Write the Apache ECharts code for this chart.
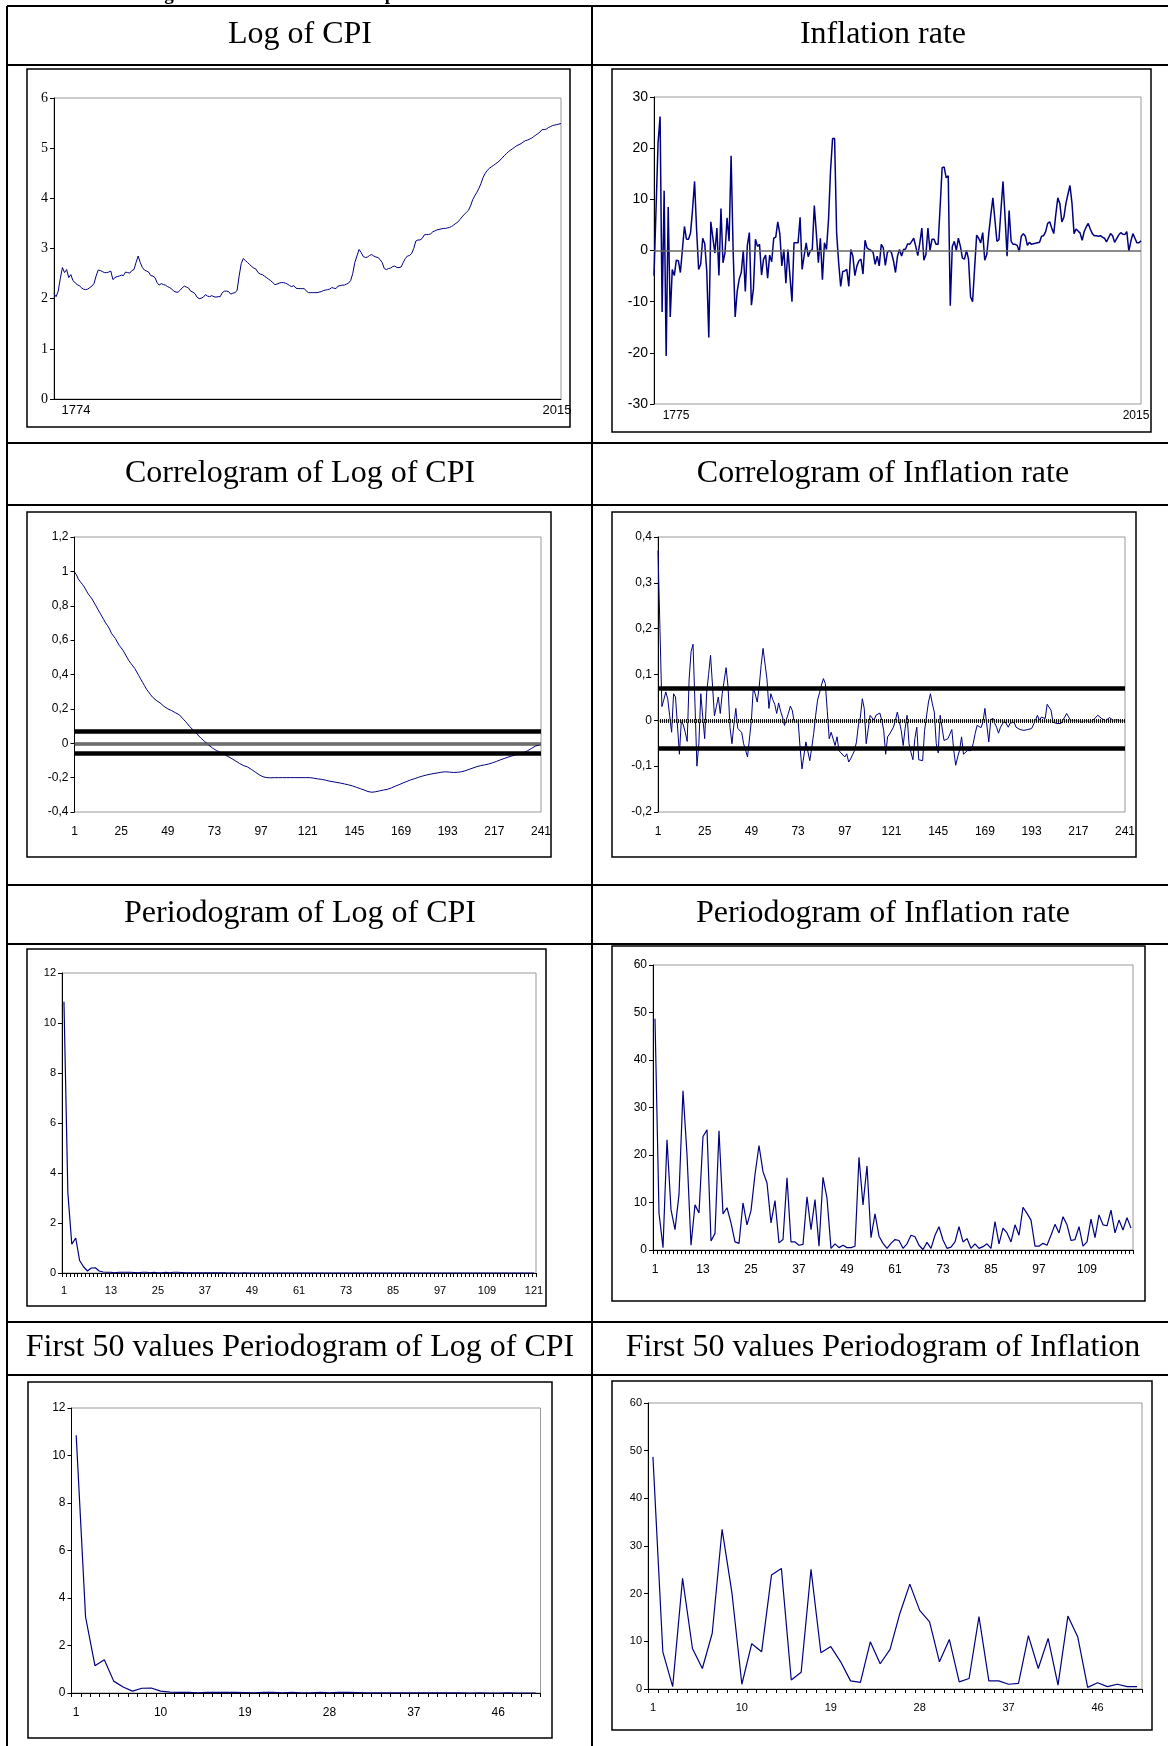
<!DOCTYPE html>
<html>
<head>
<meta charset="utf-8">
<script src="https://cdn.jsdelivr.net/npm/echarts@6/dist/echarts.min.js"></script>
<style>
html,body{margin:0;padding:0;background:#fff;}
#chart{width:1168px;height:1746px;}
</style>
</head>
<body>
<div id="chart"></div>
<script>
// series
const logCpi = [
  2.10, 2.04, 2.15, 2.40, 2.62, 2.52, 2.58, 2.42, 2.48, 2.36,
  2.32, 2.28, 2.26, 2.22, 2.19, 2.18, 2.19, 2.22, 2.25, 2.30,
  2.45, 2.57, 2.56, 2.54, 2.52, 2.52, 2.53, 2.55, 2.38, 2.42,
  2.44, 2.45, 2.47, 2.46, 2.53, 2.52, 2.51, 2.56, 2.58, 2.72,
  2.85, 2.72, 2.62, 2.57, 2.55, 2.53, 2.46, 2.45, 2.42, 2.32,
  2.27, 2.30, 2.28, 2.27, 2.24, 2.22, 2.19, 2.15, 2.13, 2.13,
  2.17, 2.22, 2.25, 2.23, 2.21, 2.15, 2.13, 2.10, 2.03, 2.00,
  2.01, 2.03, 2.08, 2.05, 2.04, 2.06, 2.04, 2.03, 2.04, 2.04,
  2.12, 2.15, 2.15, 2.14, 2.09, 2.11, 2.12, 2.16, 2.45, 2.70,
  2.80, 2.76, 2.72, 2.68, 2.64, 2.61, 2.59, 2.52, 2.49, 2.48,
  2.45, 2.42, 2.39, 2.36, 2.32, 2.28, 2.29, 2.31, 2.32, 2.32,
  2.31, 2.29, 2.26, 2.24, 2.26, 2.21, 2.20, 2.20, 2.20, 2.20,
  2.15, 2.12, 2.12, 2.12, 2.12, 2.12, 2.13, 2.14, 2.16, 2.17,
  2.18, 2.19, 2.22, 2.21, 2.20, 2.25, 2.26, 2.27, 2.27, 2.29,
  2.31, 2.36, 2.50, 2.72, 2.85, 2.98, 2.92, 2.84, 2.82, 2.83,
  2.86, 2.88, 2.85, 2.83, 2.82, 2.78, 2.72, 2.60, 2.58, 2.60,
  2.61, 2.64, 2.65, 2.62, 2.62, 2.63, 2.72, 2.80, 2.85, 2.86,
  2.90, 3.00, 3.15, 3.17, 3.17, 3.20, 3.27, 3.28, 3.28, 3.29,
  3.33, 3.35, 3.37, 3.38, 3.39, 3.40, 3.40, 3.41, 3.42, 3.44,
  3.47, 3.50, 3.53, 3.58, 3.63, 3.68, 3.72, 3.76, 3.85, 3.97,
  4.05, 4.12, 4.20, 4.30, 4.42, 4.50, 4.56, 4.60, 4.63, 4.66,
  4.69, 4.72, 4.76, 4.80, 4.85, 4.89, 4.93, 4.96, 4.99, 5.02,
  5.05, 5.07, 5.09, 5.12, 5.15, 5.16, 5.18, 5.20, 5.23, 5.26,
  5.29, 5.32, 5.37, 5.37, 5.38, 5.41, 5.43, 5.45, 5.46, 5.47,
  5.48, 5.49
];

const inflation = [
  -4.9, 8, 21, 26.2, -12, 11.7, -20.6, 8.5, -13, -3.7,
  -4.9, -1.9, -2, -4.3, 0.2, 4.7, 2.2, 2.2, 3.4, 8,
  13.5, 4, -3.7, -2.7, 2.4, 1.3, -4, -17, 5.6, 2.5,
  -0.5, 4.4, -4.9, 8.2, -2.4, -0.4, 6.4, 1.8, 18.5, 0,
  -13, -8, -5.6, -4.3, 0, -8, 1, 3.5, -10.7, -7.5,
  2.2, 0.8, 1.2, -4.8, -1.7, -0.9, -5.4, -0.9, -2.2, 2.4,
  2.6, 5.6, 3.3, -3, 0.2, -6.4, 0.2, -5, -10, 1.5,
  1.5, 1.5, 6.5, -3.7, -1, 1.5, -1.2, -0.1, 0.2, 8.8,
  3.4, -2.4, 2.4, -5.7, 1.5, 0.2, 6, 15.6, 21.9, 21.9,
  3.4, -2.4, -7, -4.1, -4, -3.7, -7, 0.2, -1.1, -4.9,
  -3, -2, -1.7, -4.6, 2, 0.5, 0.2, 0, -0.4, -2.7,
  -1.1, -3, 1.2, 0.5, -2.9, -0.4, 0, -0.4, -2, -4.3,
  -1.1, 0.2, -1.1, 0.2, 0.3, 1.3, 1.2, 1.8, 2.4, 0.8,
  -1, 1.5, 4.4, -1.9, -0.8, 4.4, 0, 2.2, 2.2, 1.2,
  1.2, 8.5, 16.2, 16.3, 14.2, 14.6, -10.8, 0.8, 1.8, 0,
  2.4, 0.8, -1.5, -1.7, 0, -1.7, -9.1, -10, -3.5, 3,
  2.4, 1.5, 3.5, -1.9, -0.8, 3.4, 7, 10.3, 6, 1.8,
  2.1, 8, 13.5, 6.6, -1.1, 7.8, 1.8, 1.2, 1.2, 1,
  -0.2, 2.8, 3.3, 2.8, 1, 1.6, 1.2, 1.3, 1.4, 1.5,
  1.6, 2.8, 2.9, 3.7, 5.3, 5.6, 4.4, 3.3, 7, 10.3,
  9.2, 5.6, 6.5, 9.2, 11, 12.7, 9.2, 3.3, 4.2, 3.8,
  3.4, 2, 3.7, 4.6, 5.3, 4.2, 3.3, 2.9, 2.9, 2.8,
  2.9, 2.6, 2.4, 1.7, 2.5, 3.3, 2.9, 1.6, 2.3, 3,
  3.5, 3.2, 3.1, 3.7, -0.1, 1.8, 3.3, 2.4, 1.5, 1.5,
  1.9
];

const acfCpi = [
  0.996, 0.98, 0.955, 0.94, 0.925, 0.91, 0.89, 0.87, 0.855, 0.84,
  0.82, 0.80, 0.78, 0.76, 0.74, 0.72, 0.70, 0.685, 0.665, 0.64,
  0.625, 0.61, 0.59, 0.57, 0.555, 0.54, 0.52, 0.50, 0.48, 0.465,
  0.45, 0.435, 0.415, 0.395, 0.375, 0.355, 0.335, 0.315, 0.30, 0.285,
  0.27, 0.26, 0.25, 0.24, 0.235, 0.225, 0.215, 0.205, 0.20, 0.195,
  0.19, 0.183, 0.177, 0.172, 0.165, 0.155, 0.14, 0.128, 0.115, 0.10,
  0.09, 0.078, 0.066, 0.054, 0.042, 0.03, 0.02, 0.01, 0.0, -0.01,
  -0.018, -0.028, -0.036, -0.042, -0.048, -0.053, -0.058, -0.065, -0.071, -0.077,
  -0.083, -0.09, -0.097, -0.104, -0.11, -0.118, -0.125, -0.13, -0.134, -0.138,
  -0.145, -0.152, -0.16, -0.168, -0.176, -0.183, -0.19, -0.195, -0.198, -0.2,
  -0.2, -0.201, -0.2, -0.2, -0.201, -0.2, -0.2, -0.2, -0.201, -0.2,
  -0.2, -0.2, -0.201, -0.2, -0.2, -0.2, -0.201, -0.2, -0.2, -0.2,
  -0.2, -0.2, -0.201, -0.203, -0.205, -0.207, -0.209, -0.21, -0.212, -0.214,
  -0.217, -0.22, -0.222, -0.224, -0.226, -0.228, -0.23, -0.232, -0.235, -0.237,
  -0.24, -0.242, -0.245, -0.248, -0.252, -0.256, -0.26, -0.264, -0.268, -0.272,
  -0.277, -0.281, -0.285, -0.285, -0.284, -0.282, -0.28, -0.277, -0.274, -0.272,
  -0.27, -0.268, -0.265, -0.26, -0.255, -0.25, -0.245, -0.241, -0.236, -0.231,
  -0.227, -0.222, -0.217, -0.213, -0.21, -0.206, -0.202, -0.198, -0.194, -0.191,
  -0.188, -0.185, -0.182, -0.18, -0.178, -0.176, -0.174, -0.172, -0.17, -0.168,
  -0.166, -0.166, -0.167, -0.168, -0.169, -0.17, -0.17, -0.169, -0.168, -0.166,
  -0.164, -0.16, -0.156, -0.152, -0.148, -0.144, -0.14, -0.136, -0.133, -0.13,
  -0.128, -0.126, -0.124, -0.121, -0.118, -0.114, -0.11, -0.106, -0.102, -0.097,
  -0.093, -0.089, -0.085, -0.081, -0.078, -0.074, -0.071, -0.068, -0.065, -0.062,
  -0.059, -0.055, -0.05, -0.044, -0.038, -0.031, -0.024, -0.017, -0.013, -0.01,
  -0.006
];

const acfInfl = [
  0.37, 0.2, 0.03, 0.045, 0.062, 0.047, 0.01, -0.026, 0.058, 0.051,
  0.047, -0.074, 0, -0.01, -0.026, -0.046, 0.09, 0.15, 0.166, 0.036,
  -0.1, -0.051, 0.058, 0.007, -0.04, 0.06, 0.1, 0.142, 0.077, 0.01,
  0.03, 0.051, 0.015, 0.058, 0.058, 0.115, 0.073, -0.015, -0.051, -0.01,
  0.026, -0.018, -0.02, -0.026, -0.051, -0.065, -0.08, -0.079, 0, 0.073,
  0.077, 0.04, 0.073, 0.12, 0.157, 0.159, 0.09, 0.026, 0.058, 0.045,
  0.035, 0.015, 0.038, 0.02, 0.007, -0.011, -0.007, 0.015, 0.031, 0.022,
  -0.004, -0.002, -0.001, -0.058, -0.106, -0.108, -0.047, -0.051, -0.088, -0.06,
  -0.029, 0.01, 0.044, 0.06, 0.077, 0.091, 0.08, 0.02, -0.04, -0.026,
  -0.022, -0.055, -0.036, -0.066, -0.071, -0.075, -0.08, -0.073, -0.091, -0.084,
  -0.075, -0.066, -0.047, -0.01, 0.007, 0.047, 0.026, -0.051, -0.02, 0.011,
  0.015, 0, 0.011, 0.013, 0.016, 0, -0.022, -0.074, -0.036, -0.03,
  -0.026, -0.015, 0, 0.018, 0.015, -0.022, -0.055, -0.018, 0.011, -0.051,
  -0.07, -0.086, -0.04, -0.015, -0.086, -0.088, -0.088, -0.022, -0.02, 0.04,
  0.058, 0.036, 0.018, -0.051, -0.071, 0.011, 0.007, -0.044, -0.047, -0.04,
  -0.036, -0.02, -0.066, -0.098, -0.08, -0.065, -0.036, -0.074, -0.07, -0.066,
  -0.069, -0.066, -0.05, -0.029, -0.011, -0.014, -0.016, -0.004, 0.026, 0.026,
  -0.047, 0, 0.005, -0.006, -0.015, -0.028, -0.015, -0.008, 0, 0.004,
  -0.015, -0.006, -0.005, -0.004, -0.015, -0.016, -0.02, -0.023, -0.022, -0.021,
  -0.02, -0.019, -0.018, -0.016, 0, 0.011, 0, 0.007, 0.005, 0.004,
  0.035, 0.033, 0.022, -0.004, -0.005, -0.007, -0.004, -0.007, 0, 0.007,
  0.015, 0.013, 0, 0, 0, -0.001, -0.002, -0.001, -0.004, -0.002,
  0, -0.003, -0.004, 0, 0.002, 0.006, 0.011, 0.007, 0.004, 0.005,
  -0.001, 0.003, 0.006, 0.004, 0, -0.002, 0.001, 0, -0.001, 0,
  -0.001
];

const perCpi = [
  10.85, 3.2, 1.15, 1.4, 0.5, 0.25, 0.08, 0.2, 0.21, 0.08,
  0.04, 0.03, 0.03, 0.01, 0.03, 0.03, 0.03, 0.03, 0.02, 0.01,
  0.03, 0.03, 0.01, 0.03, 0.01, 0.01, 0.03, 0.01, 0.03, 0.03,
  0.02, 0.01, 0.005, 0.004, 0.003, 0.004, 0.003, 0.002, 0.003, 0.002,
  0.002, 0.002, 0.001, 0.002, 0.001, 0.001, 0.002, 0.001, 0.001, 0.001,
  0.001, 0.001, 0.001, 0.001, 0.001, 0.001, 0.001, 0.001, 0.001, 0.001,
  0.001, 0.001, 0.001, 0.001, 0.001, 0.001, 0.001, 0.001, 0.001, 0.001,
  0.001, 0.001, 0.001, 0.001, 0.001, 0.001, 0.001, 0.001, 0.001, 0.001,
  0.001, 0.001, 0.001, 0.001, 0.001, 0.001, 0.001, 0.001, 0.001, 0.001,
  0.001, 0.001, 0.001, 0.001, 0.001, 0.001, 0.001, 0.001, 0.001, 0.001,
  0.001, 0.001, 0.001, 0.001, 0.001, 0.001, 0.001, 0.001, 0.001, 0.001,
  0.001, 0.001, 0.001, 0.001, 0.001, 0.001, 0.001, 0.001, 0.001, 0.001,
  0.001
];

const perInfl = [
  48.7, 7.8, 0.5, 23.2, 8.5, 4.3, 11.7, 33.5, 20.1, 1,
  9.5, 7.8, 23.9, 25.3, 1.9, 3.5, 25.1, 7.6, 8.9, 5.7,
  1.7, 1.4, 9.9, 5.3, 8.3, 15.9, 22, 16.5, 14.1, 5.7,
  10.4, 1.5, 2.2, 15.2, 1.7, 1.7, 1, 1.2, 11.2, 4.3,
  10.6, 0.8, 15.3, 10.9, 0.35, 1.3, 0.5, 1, 0.5, 0.5,
  0.8, 19.5, 9.5, 17.7, 2.6, 7.6, 2.9, 1.4, 0.35, 1.4,
  2.2, 2, 0.35, 1.3, 3.1, 2.8, 1, 0.1, 1.6, 0.35,
  3.1, 4.9, 2.1, 0.35, 0.6, 1.7, 4.9, 1.7, 2.4, 0.35,
  1.3, 0.35, 0.7, 1.3, 0.35, 6, 1.3, 4.6, 3.6, 1.7,
  5.3, 3.1, 9, 7.7, 6.3, 0.8, 0.8, 1.4, 1, 3.1,
  5.4, 3.6, 7, 5.3, 2, 2.2, 4.9, 0.8, 1.7, 6.5,
  2.6, 7.4, 5.3, 5.1, 8.4, 3.6, 6.3, 4.2, 6.8, 4.6
];

// confidence bands of the correlograms
const cpiBands = [0.074, -0.059];
const inflBands = [0.066, -0.062];

const cpiYears = [];
for (let y = 1774; y <= 2015; y++) cpiYears.push(String(y));
const inflYears = cpiYears.slice(1);
const lags = acfCpi.map((v, i) => String(i + 1));
const freqCpi = perCpi.map((v, i) => String(i + 1));
const freqInfl = perInfl.map((v, i) => String(i + 1));
const first50 = freqCpi.slice(0, 50);

const titles = [
  'Log of CPI', 'Inflation rate',
  'Correlogram of Log of CPI', 'Correlogram of Inflation rate',
  'Periodogram of Log of CPI', 'Periodogram of Inflation rate',
  'First 50 values Periodogram of Log of CPI', 'First 50 values Periodogram of Inflation'
];

const navy = '#000080';
const sans = 'Liberation Sans';
const serif = 'Liberation Serif';

// table layout
const rowLines = [6, 65, 443, 505, 885, 944, 1322, 1375];
const colLines = [7, 592];
const headMid = [35, 474, 914, 1348];
const colMid = [300, 883];

const boxes = [
  [27, 69, 570, 427], [612, 69, 1151, 432],
  [27, 512, 551, 857], [612, 512, 1136, 857],
  [27, 949, 546, 1306], [612, 946, 1145, 1301],
  [28, 1382, 552, 1738], [612, 1381, 1152, 1730]
];

const grids = [
  {left: 54, top: 98, width: 507, height: 301},
  {left: 654, top: 97, width: 487, height: 307},
  {left: 74.5, top: 537, width: 466.5, height: 275},
  {left: 658, top: 537, width: 467, height: 275},
  {left: 62, top: 973, width: 474, height: 300},
  {left: 653, top: 965, width: 480, height: 285},
  {left: 71.5, top: 1408, width: 469, height: 285},
  {left: 648, top: 1403, width: 494, height: 286}
].map(g => Object.assign(g, {
  show: true, borderColor: '#999', borderWidth: 1, backgroundColor: 'transparent',
  containLabel: false, outerBoundsMode: 'none'
}));

const graphic = [];
rowLines.forEach(y => graphic.push({type: 'rect', shape: {x: colLines[0], y: y - 1, width: 1168 - colLines[0], height: 2}, style: {fill: '#000'}}));
colLines.forEach(x => graphic.push({type: 'rect', shape: {x: x - 1, y: rowLines[0], width: 2, height: 1746 - rowLines[0]}, style: {fill: '#000'}}));
boxes.forEach(b => graphic.push({type: 'rect', shape: {x: b[0], y: b[1], width: b[2] - b[0], height: b[3] - b[1]}, style: {fill: 'none', stroke: '#000', lineWidth: 1.5}}));
titles.forEach((t, i) => graphic.push({
  type: 'text', x: colMid[i % 2], y: headMid[Math.floor(i / 2)],
  style: {text: t, font: '32px "Liberation Serif"', fill: '#000', textAlign: 'center', textVerticalAlign: 'middle'}
}));
// caption cut off by the top of the page, only descenders show
graphic.push({type: 'text', x: 72, y: 4.5, style: {text: 'Table 1: Log of CPI and Inflation rate plots', font: 'bold 19px "Liberation Serif"', fill: '#000', textAlign: 'left', textVerticalAlign: 'bottom'}});

function yAx(i, min, max, step, fs, font, fmt) {
  return {
    type: 'value', gridIndex: i, min: min, max: max, interval: step,
    axisLine: {show: true, lineStyle: {color: '#000', width: 1}},
    axisTick: {show: true, inside: false, length: 4, lineStyle: {color: '#000'}},
    splitLine: {show: false},
    axisLabel: {fontSize: fs, fontFamily: font, color: '#000', margin: 6, formatter: fmt}
  };
}

function yearAx(i, cats, fs, padL, padR, margin) {
  return {
    type: 'category', gridIndex: i, data: cats, boundaryGap: false,
    axisLine: {show: i === 0, onZero: false, lineStyle: {color: '#000'}},
    axisTick: {show: false},
    axisLabel: {
      interval: (idx, v) => idx === 0 || v === '2015',
      formatter: (v, idx) => idx === 0 ? '{a|' + v + '}' : '{b|' + v + '}',
      margin: margin, color: '#000',
      rich: {
        a: {padding: [0, 0, 0, padL], fontSize: fs, fontFamily: sans, color: '#000'},
        b: {padding: [0, padR, 0, 0], fontSize: fs, fontFamily: sans, color: '#000'}
      }
    }
  };
}

function catAx(i, cats, gap, every, fs, margin, ticks) {
  return {
    type: 'category', gridIndex: i, data: cats, boundaryGap: gap,
    axisLine: {show: ticks, lineStyle: {color: '#000'}},
    axisTick: {show: ticks, interval: 0, length: 4, lineStyle: {color: '#000'}},
    axisLabel: {interval: every - 1, fontSize: fs, fontFamily: sans, color: '#000', margin: margin}
  };
}

const comma = v => String(Math.round(v * 10) / 10).replace('.', ',');

function bandLines(bands) {
  return {
    symbol: 'none', silent: true, label: {show: false}, animation: false,
    data: [
      {yAxis: 0, lineStyle: {color: '#bbb', width: 1.5, type: 'solid'}},
      {yAxis: 0, lineStyle: {color: '#111', width: 4, type: [1, 1]}},
      {yAxis: bands[0], lineStyle: {color: '#000', width: 4.5, type: 'solid'}},
      {yAxis: bands[1], lineStyle: {color: '#000', width: 4.5, type: 'solid'}}
    ]
  };
}

function line(i, data, w, extra) {
  return Object.assign({
    type: 'line', xAxisIndex: i, yAxisIndex: i, data: data, symbol: 'none',
    lineStyle: {color: navy, width: w}, itemStyle: {color: navy}, silent: true, animation: false
  }, extra || {});
}

const chart = echarts.init(document.getElementById('chart'));
chart.setOption({
  animation: false,
  backgroundColor: '#fff',
  graphic: graphic,
  grid: grids,
  xAxis: [
    yearAx(0, cpiYears, 13, 44, 8, 5),
    yearAx(1, inflYears, 12, 44, 10, 6),
    catAx(2, lags, false, 24, 12, 14, false),
    catAx(3, lags, false, 24, 12, 14, false),
    catAx(4, freqCpi, true, 12, 11, 12, true),
    catAx(5, freqInfl, true, 12, 12, 14, true),
    catAx(6, first50, true, 9, 12, 14, true),
    catAx(7, first50, true, 9, 11, 13, true)
  ],
  yAxis: [
    yAx(0, 0, 6, 1, 14, serif),
    yAx(1, -30, 30, 10, 14, sans),
    yAx(2, -0.4, 1.2, 0.2, 12, sans, comma),
    yAx(3, -0.2, 0.4, 0.1, 12, sans, comma),
    yAx(4, 0, 12, 2, 11, sans),
    yAx(5, 0, 60, 10, 12, sans),
    yAx(6, 0, 12, 2, 12, sans),
    yAx(7, 0, 60, 10, 11, sans)
  ],
  series: [
    line(0, logCpi, 1),
    line(1, inflation, 1.5, {markLine: {symbol: 'none', silent: true, label: {show: false}, animation: false,
      data: [{yAxis: 0, lineStyle: {color: '#666', width: 1.5, type: 'solid'}}]}}),
    line(2, acfCpi, 1, {markLine: bandLines(cpiBands)}),
    line(3, acfInfl, 1, {markLine: bandLines(inflBands)}),
    line(4, perCpi, 1.2),
    line(5, perInfl, 1.2),
    line(6, perCpi.slice(0, 50), 1.2),
    line(7, perInfl.slice(0, 50), 1.2)
  ]
});
</script>
</body>
</html>
